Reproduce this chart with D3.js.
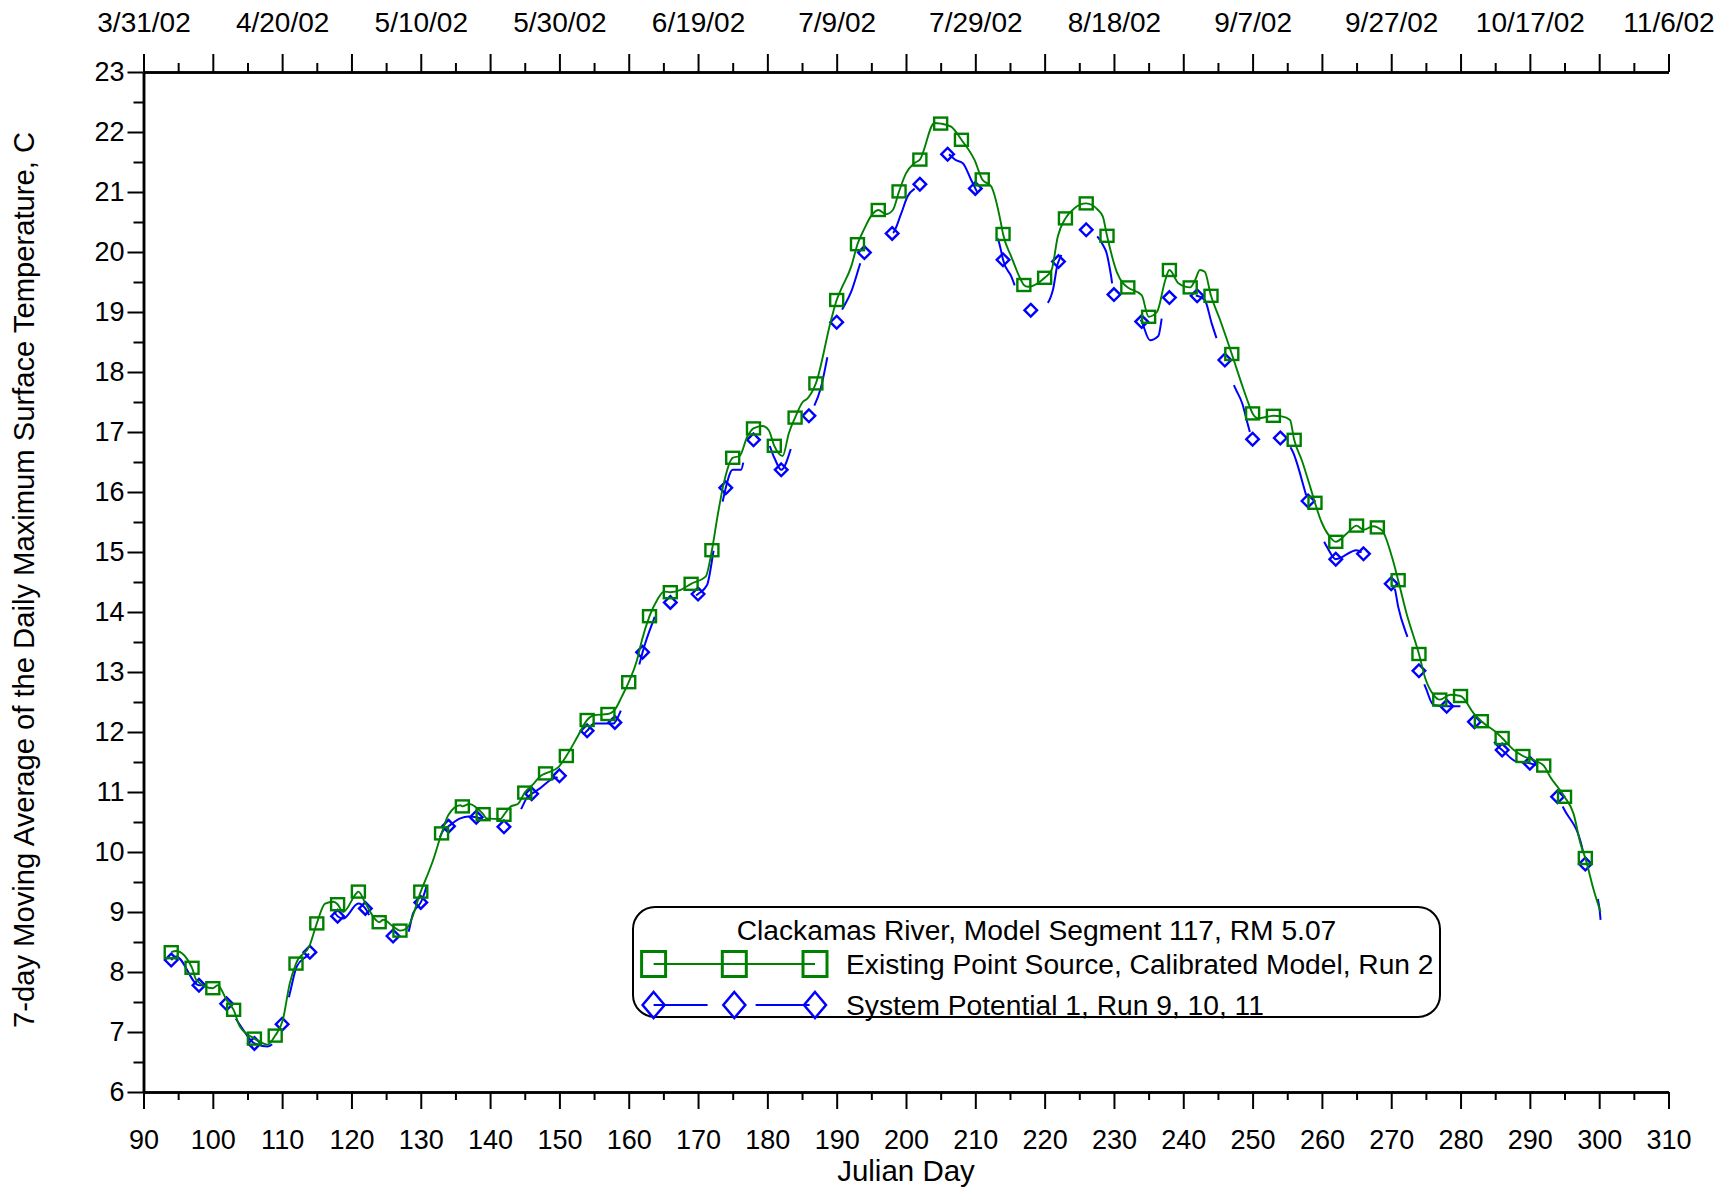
<!DOCTYPE html>
<html><head><meta charset="utf-8">
<script src="https://cdn.jsdelivr.net/npm/d3@7"></script>
<style>
body{margin:0;background:#fff}
svg{display:block}
text{font-family:"Liberation Sans",Arial,sans-serif;fill:#000}
</style>
</head><body>
<svg id="chart" width="1734" height="1189"></svg>
<script>
// ---------------- data ----------------
const dayTicks = [90,100,110,120,130,140,150,160,170,180,190,200,210,220,230,240,250,260,270,280,290,300,310];
const minorDayTicks = [95,105,115,125,135,145,155,165,175,185,195,205,215,225,235,245,255,265,275,285,295,305];
const tempTicks = [6,7,8,9,10,11,12,13,14,15,16,17,18,19,20,21,22,23];
const minorTempTicks = [6.5,7.5,8.5,9.5,10.5,11.5,12.5,13.5,14.5,15.5,16.5,17.5,18.5,19.5,20.5,21.5,22.5];
const dateTickDays = [90,110,130,150,170,190,210,230,250,270,290,310];
const dateTickLabels = ["3/31/02","4/20/02","5/10/02","5/30/02","6/19/02","7/9/02","7/29/02","8/18/02","9/7/02","9/27/02","10/17/02","11/6/02"];

const xTitle = "Julian Day";
const yTitle = "7-day Moving Average of the Daily Maximum Surface Temperature, C";
const legendTitle = "Clackamas River, Model Segment 117, RM 5.07";
const seriesNames = ["Existing Point Source, Calibrated Model, Run 2", "System Potential 1, Run 9, 10, 11"];

// Existing Point Source, Calibrated Model, Run 2  [julian day, temperature C]
const existingRun2 = [
[94,8.33],[94.7,8.35],[97,8.07],[97.6,7.87],[100,7.73],[100.7,7.78],[102,7.53],[103,7.37],[103.9,7.09],[106,6.89],
[107.9,6.79],[109,6.94],[110.1,7.2],[111.1,7.81],[112,8.14],[114,8.45],[115,8.81],[116.2,9.14],[117.4,9.17],[118,9.13],
[118.8,9.0],[120.7,9.31],[121,9.34],[122,9.15],[123.5,8.87],[124,8.83],[124.6,8.87],[126,8.76],[127,8.69],[128,8.73],
[130,9.34],[131.8,9.87],[133,10.31],[134,10.62],[135.7,10.78],[136,10.76],[137,10.8],[139,10.63],[139.5,10.56],[141.5,10.55],
[142,10.62],[143,10.76],[144,10.8],[145,10.99],[146.3,11.14],[147.2,11.26],[148,11.31],[149.9,11.42],[151,11.6],[152.6,11.92],
[154,12.2],[155,12.28],[157,12.3],[158.1,12.39],[159,12.59],[160,12.83],[161.2,13.2],[161.9,13.53],[163,13.93],[164.1,14.2],
[165.1,14.34],[166,14.33],[167.5,14.37],[169,14.47],[171.1,14.59],[172,15.03],[172.8,15.59],[173.7,16.14],[175,16.57],[176,16.6],
[177.1,16.92],[178,17.06],[179.3,17.1],[180.2,17.03],[181,16.77],[182.2,16.6],[183.1,16.98],[184,17.24],[185.1,17.5],[185.8,17.56],
[187,17.81],[189.2,18.87],[190,19.2],[190.6,19.37],[192.1,19.76],[193,20.13],[194,20.39],[194.9,20.59],[196,20.7],[197.1,20.63],
[198.1,20.7],[199,21.01],[200,21.31],[201.2,21.48],[202,21.54],[204.1,22.15],[205,22.14],[206.5,22.09],[208,21.87],[209.9,21.53],
[211,21.21],[212.3,21.09],[213.7,20.48],[214,20.3],[215.2,19.92],[216.6,19.53],[217,19.45],[217.6,19.42],[220,19.57],[221,19.7],
[221.9,20.26],[223,20.56],[224.3,20.73],[226,20.81],[227.7,20.7],[228.4,20.59],[229,20.27],[230.4,19.67],[231.3,19.48],[232,19.41],
[234,19.28],[235,18.92],[236.2,19.0],[237.4,19.53],[238,19.7],[239.3,19.48],[241,19.41],[241.7,19.53],[242.4,19.7],[243.1,19.67],
[244,19.27],[245.3,18.87],[247,18.3],[248.4,17.81],[249.4,17.48],[250,17.31],[250.8,17.23],[253,17.27],[254.2,17.26],[255.4,17.2],
[256,16.87],[257.1,16.53],[258.3,16.09],[259,15.82],[259.9,15.51],[261.1,15.26],[262,15.17],[263.6,15.31],[265,15.44],[266,15.37],
[267.4,15.43],[268,15.41],[268.8,15.34],[270.1,14.92],[271,14.53],[272.2,13.98],[274,13.3],[274.9,12.9],[276.1,12.62],[277,12.54],
[278.5,12.62],[280,12.6],[281.9,12.31],[283,12.18],[285.3,11.98],[286,11.9],[287.7,11.7],[289,11.6],[290.6,11.53],[292,11.44],
[292.9,11.26],[295,10.92],[296.3,10.64],[297.3,10.14],[298,9.9],[299.2,9.37],[300.2,9.0]
];
const existingMarkerDays = [94,97,100,103,106,109,112,115,118,121,124,127,130,133,136,139,142,145,148,151,154,157,160,163,166,169,172,175,178,181,184,187,190,193,196,199,202,205,208,211,214,217,220,223,226,229,232,235,238,241,244,247,250,253,256,259,262,265,268,271,274,277,280,283,286,289,292,295,298];

// System Potential 1, Run 9, 10, 11  [julian day, temperature C]
const systemPotential = [
[94,8.2],[94.7,8.26],[98,7.78],[99.8,7.78],[100.7,7.76],[102,7.47],[103.9,7.12],[106,6.81],[107.9,6.76],[110,7.13],
[111.1,7.64],[112.1,8.09],[114,8.33],[115.7,8.81],[117.4,9.0],[118,8.93],[118.8,8.89],[121,9.14],[122,9.06],[122.7,8.92],
[124.6,8.76],[126,8.6],[128,8.62],[128.9,8.98],[130,9.16],[133.3,10.37],[134,10.43],[135.7,10.56],[136.9,10.59],[138,10.58],
[140,10.5],[142,10.42],[144.4,10.7],[145.3,10.9],[146,10.97],[147.2,11.06],[148.7,11.2],[150,11.27],[152,11.6],[153.4,11.95],
[154,12.02],[155,12.14],[157.8,12.14],[158,12.16],[159,12.39],[161.7,13.2],[162,13.33],[163.4,13.81],[164.5,14.1],[166,14.16],
[168,14.2],[170,14.3],[171.3,14.45],[172.3,15.06],[173.7,15.92],[174,16.07],[175,16.37],[176.2,16.37],[176.8,16.64],[178,16.87],
[179.5,16.95],[181,16.57],[182,16.37],[184.2,16.98],[186,17.27],[187.7,17.73],[189.2,18.53],[190,18.83],[192.1,19.34],[194,19.99],
[194.7,20.12],[196,20.3],[198,20.31],[199.3,20.64],[200.2,20.92],[202,21.13],[203,21.3],[206,21.63],[207.2,21.53],[208.2,21.48],
[209.4,21.2],[210,21.06],[211.1,20.8],[213.7,20.03],[214,19.87],[215.2,19.59],[216.4,19.23],[218,19.03],[220,19.1],[221.2,19.37],
[221.9,19.81],[222,19.84],[223.6,20.17],[226,20.37],[228.8,20.03],[229.6,19.59],[230,19.29],[232,19.2],[234,18.84],[235.2,18.53],
[236.4,18.6],[237.1,19.03],[238,19.24],[240,19.3],[242,19.27],[243.1,19.2],[244.1,18.81],[244.9,18.53],[246,18.2],[247.5,17.73],
[248.5,17.48],[249.4,17.09],[250,16.88],[252,16.9],[254,16.9],[255.8,16.67],[258,15.85],[260.8,15.07],[262,14.88],[265,15.03],
[266,14.97],[268,14.8],[270,14.47],[270.5,14.39],[271,14.09],[272.5,13.53],[274,13.02],[275,12.73],[276.1,12.45],[278,12.43],
[280.2,12.43],[282,12.17],[284,11.95],[285.4,11.76],[286,11.7],[288,11.51],[290,11.48],[292,11.35],[294,10.92],[295,10.7],
[297.5,10.09],[298,9.8],[300,9.09],[300.2,8.87]
];
const systemMarkerDays = [94,98,102,106,110,114,118,122,126,130,134,138,142,146,150,154,158,162,166,170,174,178,182,186,190,194,198,202,206,210,214,218,222,226,230,234,238,242,246,250,254,258,262,266,270,274,278,282,286,290,294,298];

// ---------------- drawing ----------------
const GREEN = "#008000", BLUE = "#0000ff";
const svg = d3.select("#chart");
const x = d3.scaleLinear().domain([90,310]).range([143.5,1668.5]);
const y = d3.scaleLinear().domain([6,23]).range([1092,72]);
const FS = 27;

function styleAxis(g, sw, fs){
  g.select(".domain").attr("stroke","#000").attr("stroke-width",sw);
  g.selectAll(".tick line").attr("stroke","#000").attr("stroke-width",2);
  g.selectAll("text").attr("font-size",fs || FS).attr("font-family",'"Liberation Sans",Arial,sans-serif').attr("fill","#000");
}

// bottom axis
const gb = svg.append("g").attr("transform",`translate(0,${y(6)})`)
  .call(d3.axisBottom(x).tickValues(dayTicks).tickSize(17).tickSizeOuter(0).tickPadding(21).tickFormat(d3.format("d")));
styleAxis(gb,2.5);
const gbm = svg.append("g").attr("transform",`translate(0,${y(6)})`)
  .call(d3.axisBottom(x).tickValues(minorDayTicks).tickSize(8).tickSizeOuter(0).tickFormat(""));
styleAxis(gbm,2.5);

// top axis
const gt = svg.append("g").attr("transform",`translate(0,${y(23)})`)
  .call(d3.axisTop(x).tickValues(dayTicks).tickSize(18).tickSizeOuter(0).tickFormat(""));
styleAxis(gt,2.5);
const gtm = svg.append("g").attr("transform",`translate(0,${y(23)})`)
  .call(d3.axisTop(x).tickValues(minorDayTicks).tickSize(9).tickSizeOuter(0).tickFormat(""));
styleAxis(gtm,2.5);
const gtl = svg.append("g").attr("transform",`translate(0,${y(23)})`)
  .call(d3.axisTop(x).tickValues(dateTickDays).tickSize(0).tickSizeOuter(0).tickPadding(40)
    .tickFormat(d => dateTickLabels[dateTickDays.indexOf(d)]));
styleAxis(gtl,0,28);
gtl.select(".domain").remove();

// left axis
const gl = svg.append("g").attr("transform",`translate(${x(90)},0)`)
  .call(d3.axisLeft(y).tickValues(tempTicks).tickSize(16).tickSizeOuter(0).tickPadding(3).tickFormat(d3.format("d")));
styleAxis(gl,2.5);
const glm = svg.append("g").attr("transform",`translate(${x(90)},0)`)
  .call(d3.axisLeft(y).tickValues(minorTempTicks).tickSize(10).tickSizeOuter(0).tickFormat(""));
styleAxis(glm,2.5);

// axis titles
svg.append("text").attr("x",(x(90)+x(310))/2).attr("y",1181).attr("text-anchor","middle")
  .attr("font-size",29.5).text(xTitle);
svg.append("text").attr("transform",`translate(34,${(y(6)+y(23))/2 - 2}) rotate(-90)`)
  .attr("text-anchor","middle").attr("font-size",29.2).text(yTitle);

// lines
const line = d3.line().x(d => x(d[0])).y(d => y(d[1])).curve(d3.curveMonotoneX);

svg.append("path").datum(systemPotential).attr("d",line).attr("fill","none")
  .attr("stroke",BLUE).attr("stroke-width",2).attr("stroke-dasharray","50,50");

const diamond = (w,h) => `M0,${-h}L${w},0L0,${h}L${-w},0Z`;
const sysMarkers = systemMarkerDays.map(dd => systemPotential.find(p => p[0] === dd));
svg.append("g").selectAll("path").data(sysMarkers).join("path")
  .attr("transform",d => `translate(${x(d[0])},${y(d[1])})`)
  .attr("d",diamond(6.3,6.3)).attr("fill","none").attr("stroke",BLUE).attr("stroke-width",2.4);

svg.append("path").datum(existingRun2).attr("d",line).attr("fill","none")
  .attr("stroke",GREEN).attr("stroke-width",1.9);

const exMarkers = existingMarkerDays.map(dd => existingRun2.find(p => p[0] === dd));
svg.append("g").selectAll("rect").data(exMarkers).join("rect")
  .attr("x",d => x(d[0]) - 6.5).attr("y",d => y(d[1]) - 6)
  .attr("width",13).attr("height",12)
  .attr("fill","none").attr("stroke",GREEN).attr("stroke-width",2.4);

// legend
const lg = svg.append("g");
lg.append("rect").attr("x",633).attr("y",907).attr("width",807).attr("height",110).attr("rx",22).attr("ry",22)
  .attr("fill","#fff").attr("stroke","#000").attr("stroke-width",2);
lg.append("text").attr("x",1036.5).attr("y",940).attr("text-anchor","middle").attr("font-size",28.2).text(legendTitle);
const lx = [653.6, 734.3, 815];
// row 1
lg.append("line").attr("x1",lx[0]).attr("x2",lx[2]).attr("y1",964).attr("y2",964)
  .attr("stroke",GREEN).attr("stroke-width",2);
lx.forEach(cx => lg.append("rect").attr("x",cx-12).attr("y",964-12.5).attr("width",24).attr("height",25)
  .attr("fill","none").attr("stroke",GREEN).attr("stroke-width",3));
lg.append("text").attr("x",846).attr("y",974).attr("font-size",28.2).text(seriesNames[0]);
// row 2
lg.append("line").attr("x1",lx[0]).attr("x2",lx[2]).attr("y1",1005).attr("y2",1005)
  .attr("stroke",BLUE).attr("stroke-width",2).attr("stroke-dasharray","54,48");
lx.forEach(cx => lg.append("path").attr("transform",`translate(${cx},1005)`).attr("d",diamond(11,13))
  .attr("fill","none").attr("stroke",BLUE).attr("stroke-width",2.5));
lg.append("text").attr("x",846).attr("y",1015).attr("font-size",28.2).text(seriesNames[1]);
</script>
</body></html>
